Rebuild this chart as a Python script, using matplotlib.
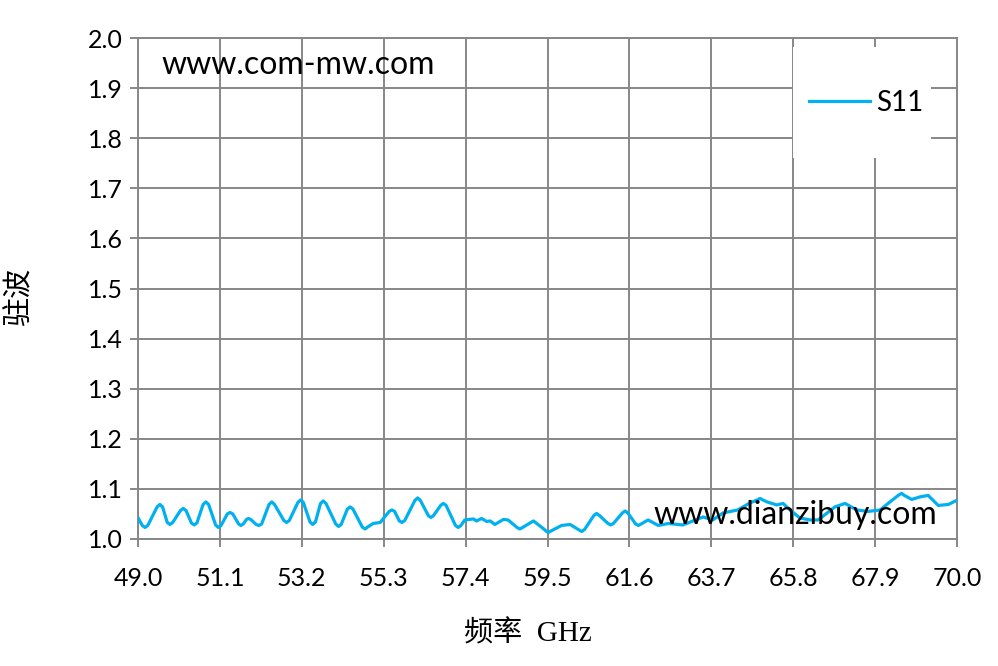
import matplotlib
matplotlib.use("Agg")
import matplotlib.pyplot as plt
from matplotlib.patches import Rectangle

# S11 standing wave ratio (GHz, VSWR)
freq = [49.01, 49.11, 49.18, 49.25, 49.49, 49.56, 49.63, 49.75, 49.82, 49.89,
        50.09, 50.16, 50.23, 50.37, 50.44, 50.51, 50.67, 50.74, 50.81, 50.99,
        51.06, 51.13, 51.29, 51.36, 51.43, 51.58, 51.64, 51.70, 51.78, 51.83,
        51.89, 52.03, 52.10, 52.17, 52.36, 52.43, 52.50, 52.74, 52.81, 52.88,
        53.10, 53.17, 53.24, 53.41, 53.48, 53.55, 53.68, 53.75, 53.82, 54.07,
        54.14, 54.21, 54.37, 54.44, 54.51, 54.75, 54.82, 54.89, 55.03, 55.21,
        55.44, 55.51, 55.58, 55.70, 55.77, 55.84, 56.10, 56.17, 56.24, 56.45,
        56.51, 56.57, 56.76, 56.83, 56.90, 57.14, 57.21, 57.28, 57.38, 57.60,
        57.68, 57.81, 57.94, 58.03, 58.15, 58.37, 58.49, 58.72, 58.79, 58.86,
        59.14, 59.39, 59.46, 59.52, 59.59, 59.86, 60.08, 60.31, 60.38, 60.45,
        60.69, 60.76, 60.83, 61.05, 61.12, 61.19, 61.42, 61.49, 61.56, 61.76,
        61.83, 61.90, 62.08, 62.34, 62.60, 62.97, 63.49, 63.74, 64.00, 64.38,
        64.69, 64.88, 64.95, 65.02, 65.13, 65.38, 65.54, 65.72, 65.97, 66.23,
        66.44, 66.87, 67.13, 67.43, 67.72, 68.03, 68.28, 68.51, 68.58, 68.65,
        68.84, 69.05, 69.26, 69.52, 69.78, 69.99]
vswr = [1.041, 1.027, 1.023, 1.027, 1.064, 1.069, 1.064, 1.033, 1.029, 1.033,
        1.057, 1.061, 1.057, 1.032, 1.028, 1.032, 1.069, 1.074, 1.069, 1.028,
        1.023, 1.027, 1.050, 1.053, 1.050, 1.030, 1.027, 1.030, 1.039, 1.041,
        1.039, 1.029, 1.027, 1.030, 1.069, 1.074, 1.069, 1.037, 1.033, 1.037,
        1.073, 1.078, 1.073, 1.034, 1.029, 1.034, 1.071, 1.076, 1.071, 1.030,
        1.025, 1.029, 1.060, 1.064, 1.060, 1.024, 1.020, 1.024, 1.031, 1.033,
        1.055, 1.058, 1.055, 1.036, 1.033, 1.037, 1.077, 1.082, 1.077, 1.046,
        1.043, 1.046, 1.067, 1.071, 1.067, 1.027, 1.023, 1.027, 1.038, 1.040,
        1.036, 1.041, 1.035, 1.036, 1.029, 1.039, 1.038, 1.023, 1.020, 1.023,
        1.036, 1.021, 1.016, 1.013, 1.016, 1.027, 1.029, 1.018, 1.015, 1.019,
        1.047, 1.051, 1.047, 1.031, 1.028, 1.031, 1.052, 1.056, 1.052, 1.030,
        1.027, 1.030, 1.038, 1.027, 1.031, 1.028, 1.044, 1.038, 1.052, 1.058,
        1.072, 1.078, 1.081, 1.078, 1.074, 1.068, 1.071, 1.058, 1.042, 1.038,
        1.038, 1.064, 1.071, 1.058, 1.055, 1.058, 1.074, 1.088, 1.091, 1.087,
        1.079, 1.084, 1.087, 1.067, 1.069, 1.077]

x_ticks = [49.0, 51.1, 53.2, 55.3, 57.4, 59.5, 61.6, 63.7, 65.8, 67.9, 70.0]
y_ticks = [1.0, 1.1, 1.2, 1.3, 1.4, 1.5, 1.6, 1.7, 1.8, 1.9, 2.0]

grid_col = "#878787"
line_col = "#00B0F0"

fig = plt.figure(figsize=(9.98, 6.66), dpi=100)
ax = fig.add_axes([138 / 998, 1 - 539 / 666, 819 / 998, 501 / 666])

ax.plot(freq, vswr, color=line_col, lw=2.3, solid_joinstyle="round",
        label="S11", zorder=3)

ax.set_xlim(49.0, 70.0)
ax.set_ylim(1.0, 2.0)
ax.set_xticks(x_ticks)
ax.set_yticks(y_ticks)
ax.set_xticklabels([f"{v:.1f}" for v in x_ticks])
ax.set_yticklabels([f"{v:.1f}" for v in y_ticks])

ax.grid(True, color=grid_col, lw=1.4, zorder=0)
for s in ax.spines.values():
    s.set_color(grid_col)
    s.set_linewidth(1.4)
ax.tick_params(axis="both", direction="out", length=6, width=1.4,
               color=grid_col, labelsize=18)
ax.tick_params(axis="x", pad=14)
ax.tick_params(axis="y", pad=5)
for lab in ax.get_xticklabels() + ax.get_yticklabels():
    lab.set_family("Lato")

# white legend box covering the grid
ax.add_patch(Rectangle((0.7998, 0.760), 0.168, 0.222, transform=ax.transAxes,
                       facecolor="white", edgecolor="none", zorder=2))
leg = ax.legend(loc="center", bbox_to_anchor=(0.889, 0.870), frameon=False,
                handlelength=2.2, handletextpad=0.2,
                prop={"family": "Lato", "size": 20})

ax.text(0.029, 0.946, "www.com-mw.com", transform=ax.transAxes,
        family="Lato", fontsize=23, va="center", ha="left", zorder=4)
ax.text(0.976, 0.048, "www.dianzibuy.com", transform=ax.transAxes,
        family="Lato", fontsize=23, va="center", ha="right", zorder=4)

ax.set_ylabel("驻波", family=["Liberation Serif", "Noto Sans CJK SC"],
              fontsize=21)
ax.set_xlabel("频率  GHz", family=["Liberation Serif", "Noto Sans CJK SC"],
              fontsize=21)
ax.yaxis.set_label_coords(-0.127, 0.483)
ax.xaxis.set_label_coords(0.476, -0.162)

fig.savefig("out.png", dpi=100)
